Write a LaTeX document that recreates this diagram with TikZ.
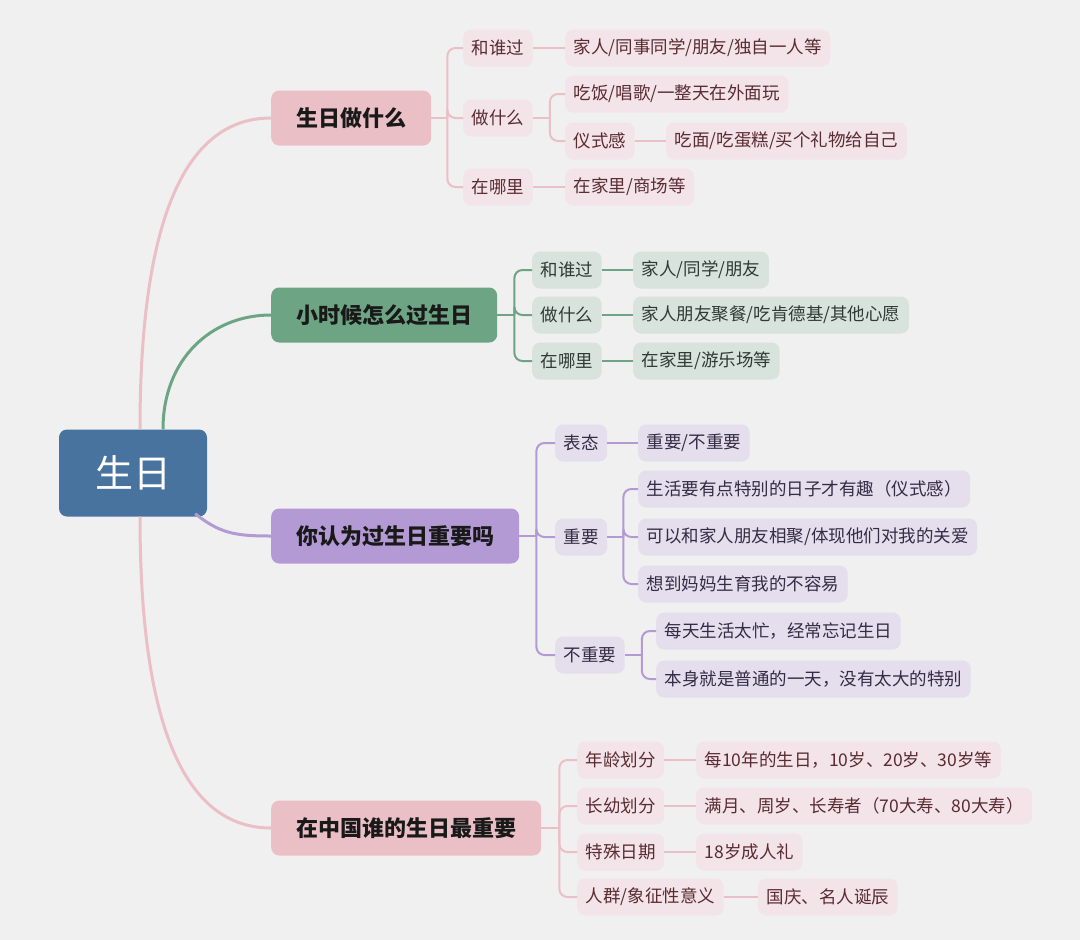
\documentclass[tikz,border=0pt]{standalone}
\usepackage{fontspec}
\newfontfamily\cjk{Noto Sans CJK SC}
\usepackage{xcolor}
\usepackage{tikz}
\usetikzlibrary{calc}

\definecolor{bgcol}{HTML}{F0F0F0}
\definecolor{rootblue}{HTML}{48739F}
\definecolor{pinkmain}{HTML}{EBBFC6}
\definecolor{pinklite}{HTML}{F2E4E8}
\definecolor{pinktext}{HTML}{5A2B32}
\definecolor{greenmain}{HTML}{6DA584}
\definecolor{greenlite}{HTML}{D7E3DC}
\definecolor{greentext}{HTML}{2D3B33}
\definecolor{purpmain}{HTML}{B39AD4}
\definecolor{purplite}{HTML}{E5DEED}
\definecolor{purptext}{HTML}{362B45}

\tikzset{
  root/.style={fill=rootblue, rounded corners=8pt, minimum width=148pt, minimum height=87pt,
    text=white, font=\cjk\fontsize{38}{40}\selectfont},
  topic/.style={fill=#1main, rounded corners=8pt, minimum height=55pt, inner xsep=25pt,
    text=black!90, anchor=west, font=\cjk\bfseries\fontsize{22}{24}\selectfont},
  leaf/.style={fill=#1lite, text=#1text, rounded corners=8pt, minimum height=37pt,
    inner xsep=8.5pt, anchor=west, font=\cjk\fontsize{17.5}{20}\selectfont},
  branch/.style={line width=3pt, draw=#1main},
  twig/.style={line width=2pt, draw=#1main, rounded corners=8pt},
}

\begin{document}
\begin{tikzpicture}[x=1pt,y=-1pt]
		\useasboundingbox[fill=bgcol] (0,0) rectangle (1080,940);

		% centre and main topics
		\node[root] (root) at (133,473) {生日};
		\node[topic=pink] (t1) at (271,118) {生日做什么};
		\node[topic=green] (t2) at (271,315) {小时候怎么过生日};
		\node[topic=purp] (t3) at (271,536) {你认为过生日重要吗};
		\node[topic=pink] (t4) at (271,828) {在中国谁的生日最重要};

		\draw[branch=pink] ($(root.north)+(7,0)$) .. controls +(0,-200) and +(-90,0) .. (t1.west);
		\draw[branch=green] ($(root.north)+(30,0)$) .. controls +(0,-70) and +(-60,0) .. (t2.west);
		\draw[branch=purp] ($(root.south east)+(-12,-3)$) .. controls +(25,20) and +(-35,0) .. (t3.west);
		\draw[branch=pink] ($(root.south)+(7,0)$) .. controls +(0,200) and +(-90,0) .. (t4.west);

		% 生日做什么
		\node[leaf=pink] (a1) at (463,48) {和谁过};
		\node[leaf=pink] (a2) at (463,118) {做什么};
		\node[leaf=pink] (a3) at (463,187) {在哪里};
		\node[leaf=pink] (a1x) at (565,48) {家人/同事同学/朋友/独自一人等};
		\node[leaf=pink] (a2x) at (565,94) {吃饭/唱歌/一整天在外面玩};
		\node[leaf=pink] (a2y) at (565,141) {仪式感};
		\node[leaf=pink] (a2yx) at (666,141) {吃面/吃蛋糕/买个礼物给自己};
		\node[leaf=pink] (a3x) at (565,187) {在家里/商场等};

		\coordinate (sa) at ($(t1.east)+(16,0)$);
		\draw[twig=pink] (t1.east) -- (sa);
		\draw[twig=pink] (sa) |- (a1.west);
		\draw[twig=pink] (sa) |- (a2.west);
		\draw[twig=pink] (sa) |- (a3.west);
		\draw[twig=pink] (a1.east) -- (a1x.west);
		\coordinate (sa2) at ($(a2.east)+(17,0)$);
		\draw[twig=pink] (a2.east) -- (sa2);
		\draw[twig=pink] (sa2) |- (a2x.west);
		\draw[twig=pink] (sa2) |- (a2y.west);
		\draw[twig=pink] (a2y.east) -- (a2yx.west);
		\draw[twig=pink] (a3.east) -- (a3x.west);

		% 小时候怎么过生日
		\node[leaf=green] (b1) at (532,270) {和谁过};
		\node[leaf=green] (b2) at (532,315) {做什么};
		\node[leaf=green] (b3) at (532,361) {在哪里};
		\node[leaf=green] (b1x) at (633,270) {家人/同学/朋友};
		\node[leaf=green] (b2x) at (633,315) {家人朋友聚餐/吃肯德基/其他心愿};
		\node[leaf=green] (b3x) at (633,361) {在家里/游乐场等};

		\coordinate (sb) at ($(t2.east)+(17,0)$);
		\draw[twig=green] (t2.east) -- (sb);
		\foreach \k in {b1,b2,b3} {
			\draw[twig=green] (sb) |- (\k.west);
			\draw[twig=green] (\k.east) -- (\k x.west);
		}

		% 你认为过生日重要吗
		\node[leaf=purp] (c1) at (555,443) {表态};
		\node[leaf=purp] (c2) at (555,537) {重要};
		\node[leaf=purp] (c3) at (555,655) {不重要};
		\node[leaf=purp] (c1x) at (638,443) {重要/不重要};
		\node[leaf=purp] (c2x) at (638,489) {生活要有点特别的日子才有趣（仪式感）};
		\node[leaf=purp] (c2y) at (638,537) {可以和家人朋友相聚/体现他们对我的关爱};
		\node[leaf=purp] (c2z) at (638,584) {想到妈妈生育我的不容易};
		\node[leaf=purp] (c3x) at (656,631) {每天生活太忙，经常忘记生日};
		\node[leaf=purp] (c3y) at (656,679) {本身就是普通的一天，没有太大的特别};

		\coordinate (sc) at ($(t3.east)+(17,0)$);
		\draw[twig=purp] (t3.east) -- (sc);
		\foreach \k in {c1,c2,c3}
			\draw[twig=purp] (sc) |- (\k.west);
		\draw[twig=purp] (c1.east) -- (c1x.west);
		\coordinate (sc2) at ($(c2.east)+(16,0)$);
		\draw[twig=purp] (c2.east) -- (sc2);
		\foreach \k in {c2x,c2y,c2z}
			\draw[twig=purp] (sc2) |- (\k.west);
		\coordinate (sc3) at ($(c3.east)+(17,0)$);
		\draw[twig=purp] (c3.east) -- (sc3);
		\foreach \k in {c3x,c3y}
			\draw[twig=purp] (sc3) |- (\k.west);

		% 在中国谁的生日最重要
		\node[leaf=pink] (d1) at (577,760) {年龄划分};
		\node[leaf=pink] (d2) at (577,806) {长幼划分};
		\node[leaf=pink] (d3) at (577,852) {特殊日期};
		\node[leaf=pink] (d4) at (577,897) {人群/象征性意义};
		\node[leaf=pink] (d1x) at (696,760) {每10年的生日，10岁、20岁、30岁等};
		\node[leaf=pink] (d2x) at (696,806) {满月、周岁、长寿者（70大寿、80大寿）};
		\node[leaf=pink] (d3x) at (696,852) {18岁成人礼};
		\node[leaf=pink] (d4x) at (758,897) {国庆、名人诞辰};

		\coordinate (sd) at ($(t4.east)+(18,0)$);
		\draw[twig=pink] (t4.east) -- (sd);
		\foreach \k in {d1,d2,d3,d4} {
			\draw[twig=pink] (sd) |- (\k.west);
			\draw[twig=pink] (\k.east) -- (\k x.west);
		}
\end{tikzpicture}
\end{document}
